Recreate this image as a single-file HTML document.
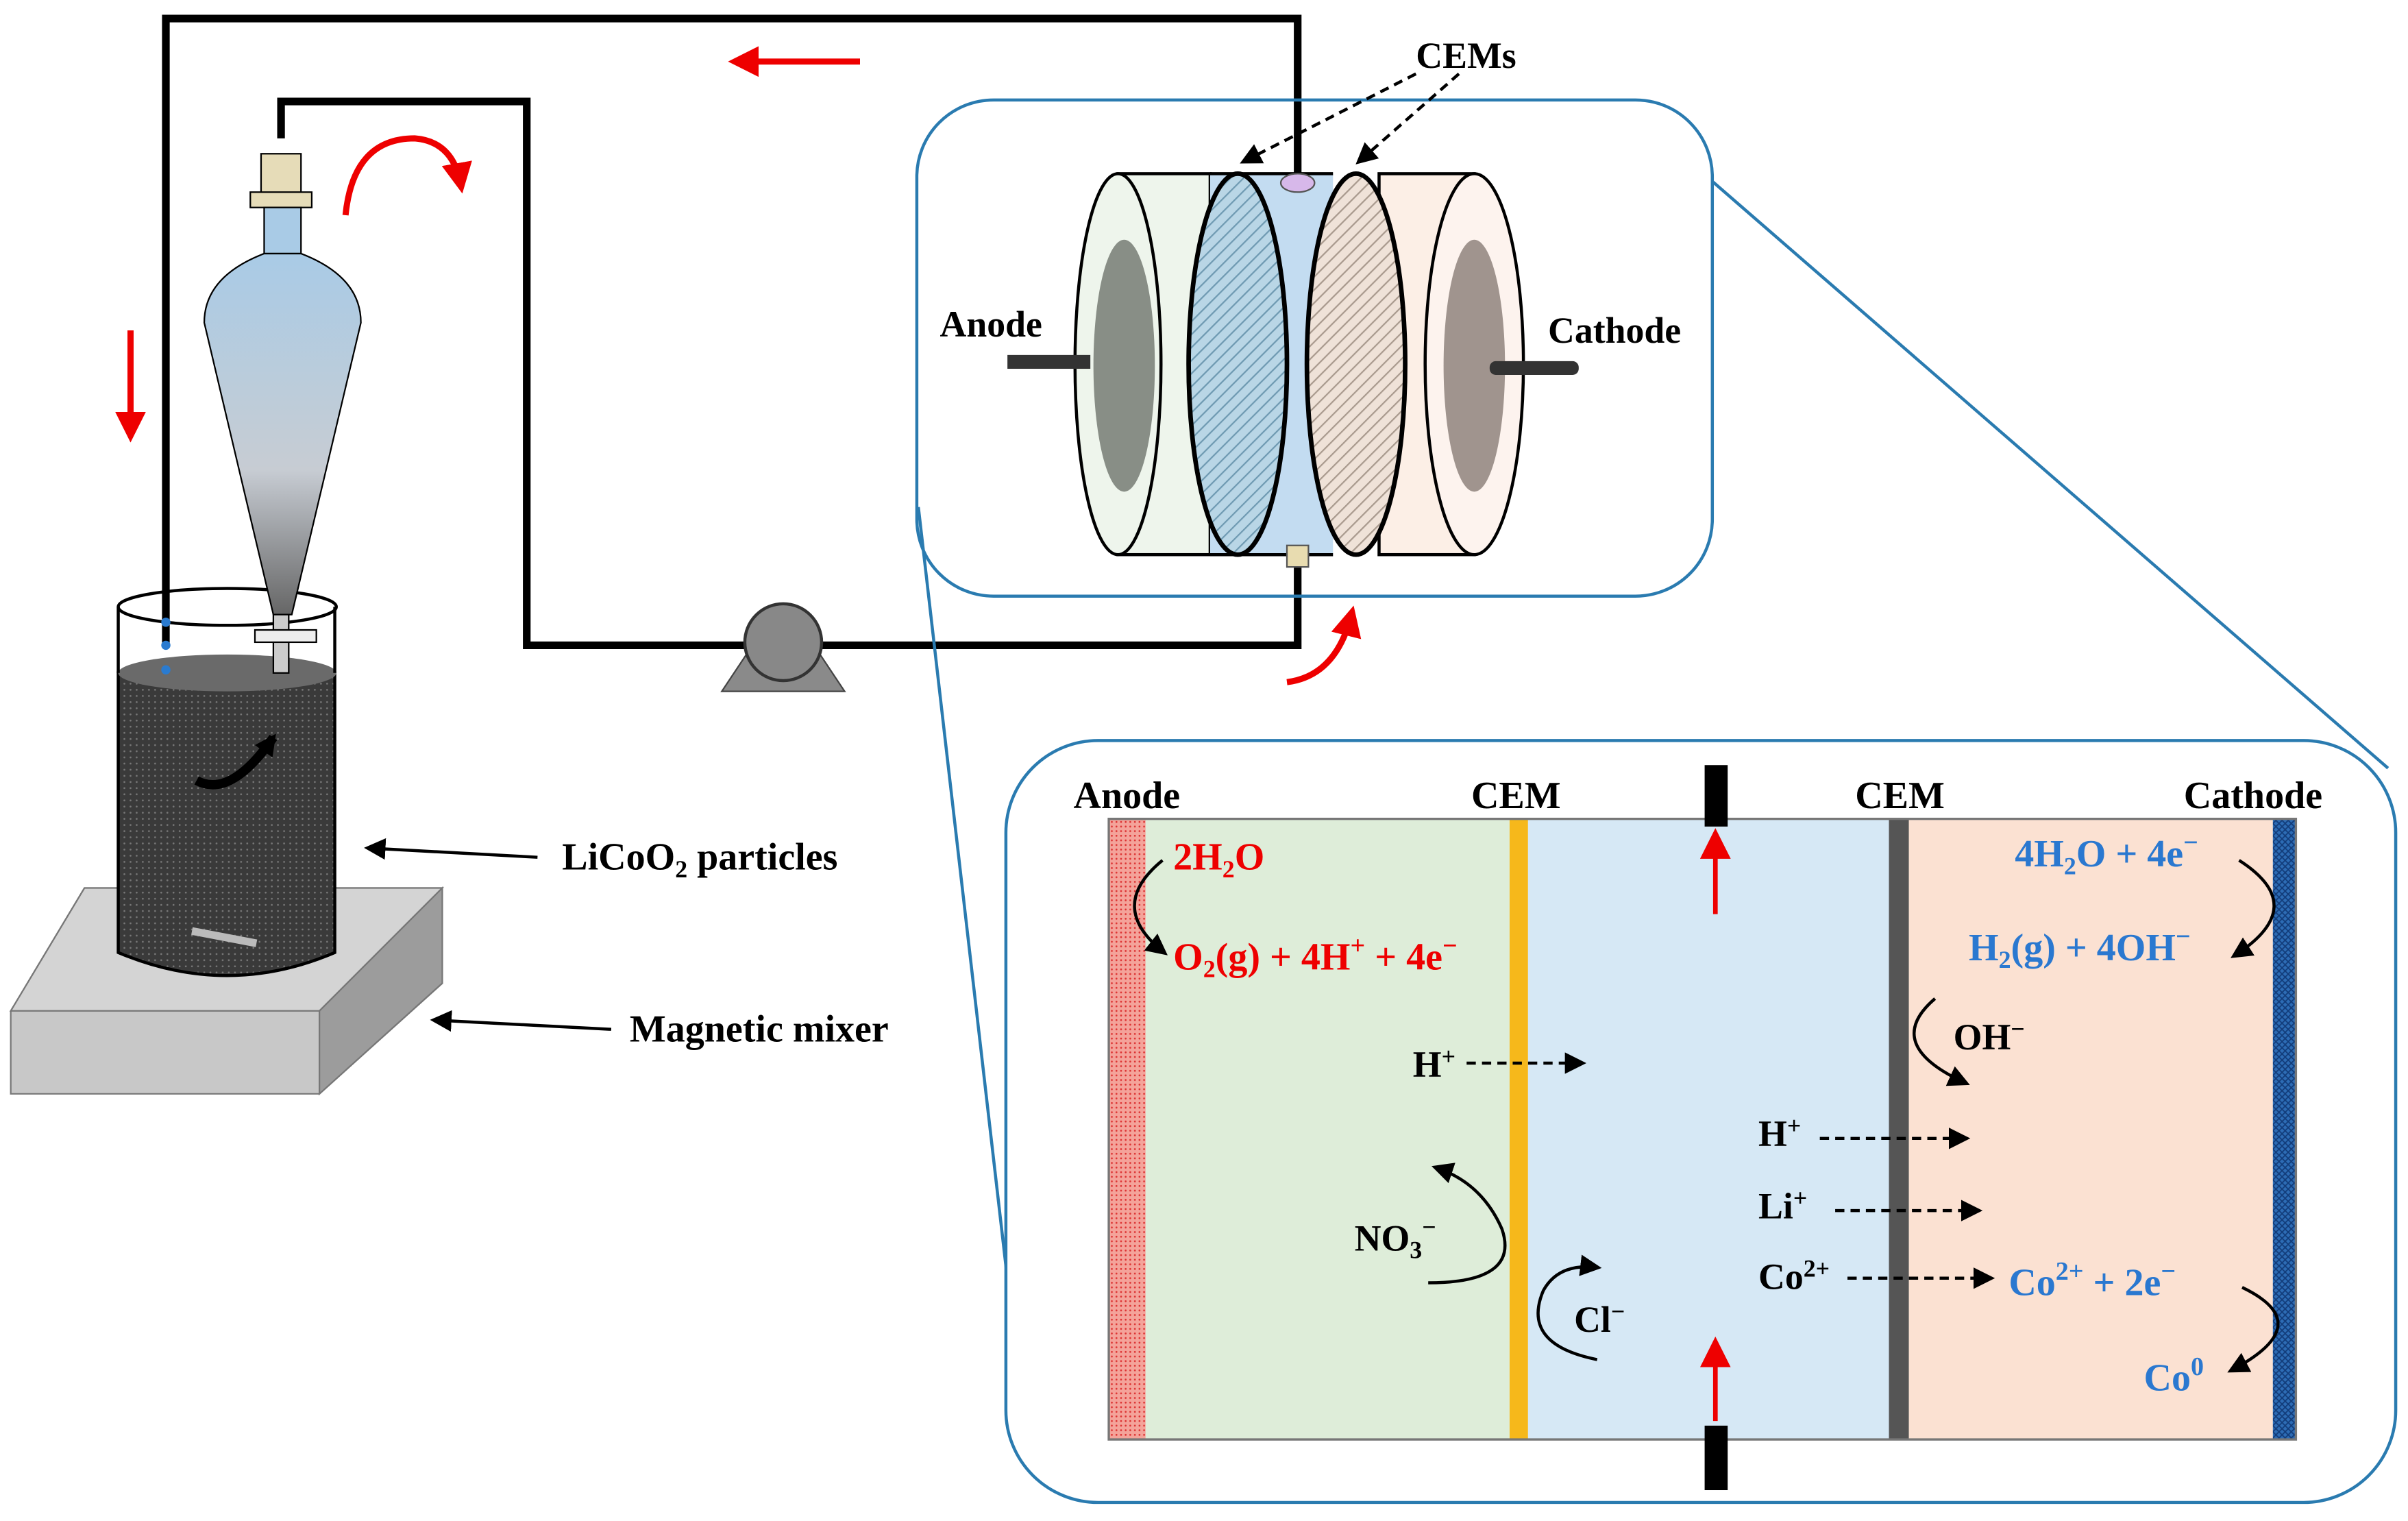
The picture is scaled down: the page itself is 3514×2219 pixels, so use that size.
<!DOCTYPE html>
<html><head><meta charset="utf-8"><style>
html,body{margin:0;padding:0;background:#fff;width:3514px;height:2219px;overflow:hidden}
svg{display:block}
text{font-family:"Liberation Serif",serif;font-weight:bold}
</style></head><body>
<svg width="3514" height="2219" viewBox="0 0 1568 990" xmlns="http://www.w3.org/2000/svg">
<defs>
<marker id="ab2" markerWidth="14" markerHeight="14" refX="11" refY="7" orient="auto" markerUnits="userSpaceOnUse"><path d="M0,0 L14,7 L0,14 z" fill="#000"/></marker>
<marker id="ar" markerWidth="20" markerHeight="20" refX="14" refY="10" orient="auto" markerUnits="userSpaceOnUse"><path d="M0,0 L20,10 L0,20 z" fill="#e00"/></marker>
<pattern id="h1" width="6" height="6" patternUnits="userSpaceOnUse" patternTransform="rotate(45)"><rect width="6" height="6" fill="#b9d6e6"/><line x1="0" y1="0" x2="0" y2="6" stroke="#6f9ab2" stroke-width="2"/></pattern>
<pattern id="h2" width="6" height="6" patternUnits="userSpaceOnUse" patternTransform="rotate(45)"><rect width="6" height="6" fill="#efe2d8"/><line x1="0" y1="0" x2="0" y2="6" stroke="#a99a8e" stroke-width="2"/></pattern>
<pattern id="dots" width="4" height="4" patternUnits="userSpaceOnUse"><rect width="4" height="4" fill="#3a3a3a"/><circle cx="1" cy="1" r="0.6" fill="#777"/></pattern>
<pattern id="rd" width="3" height="3" patternUnits="userSpaceOnUse"><rect width="3" height="3" fill="#f4a39a"/><circle cx="1" cy="1" r="0.6" fill="#d33"/></pattern>
<pattern id="bx" width="4" height="4" patternUnits="userSpaceOnUse"><rect width="4" height="4" fill="#2d6cb5"/><path d="M0,0 L4,4 M4,0 L0,4" stroke="#123c7a" stroke-width="0.8"/></pattern>
<linearGradient id="fun" x1="0" y1="0" x2="0" y2="1"><stop offset="0" stop-color="#a9cbe6"/><stop offset="0.6" stop-color="#c7ccd3"/><stop offset="1" stop-color="#666"/></linearGradient>
</defs>

<polyline points="108,420 108,12 845,12 845,115" fill="none" stroke="#000" stroke-width="5"/>
<polyline points="183,90 183,66 343,66 343,420 845,420 845,368" fill="none" stroke="#000" stroke-width="5"/>
<line x1="560" y1="40" x2="480" y2="40" stroke="#e00" stroke-width="4" marker-end="url(#ar)"/>
<line x1="85" y1="215" x2="85" y2="282" stroke="#e00" stroke-width="4" marker-end="url(#ar)"/>
<path d="M225,140 Q230,90 270,90 Q295,92 300,120" fill="none" stroke="#e00" stroke-width="4" marker-end="url(#ar)"/>
<path d="M838,444 Q870,440 880,400" fill="none" stroke="#e00" stroke-width="4" marker-end="url(#ar)"/>

<polygon points="470,450 550,450 530,420 490,420" fill="#8a8a8a" stroke="#444"/>
<circle cx="510" cy="418" r="25" fill="#888" stroke="#333" stroke-width="2"/>

<polygon points="7,658 55,578 288,578 288,640 208,712 7,712" fill="#c8c8c8" stroke="#777"/>
<polygon points="7,658 55,578 288,578 208,658" fill="#d4d4d4" stroke="#777"/>
<polygon points="208,658 288,578 288,640 208,712" fill="#9c9c9c" stroke="#777"/>
<path d="M77,438 L77,620 Q148,650 218,620 L218,438 Z" fill="url(#dots)" stroke="#000" stroke-width="2"/>
<ellipse cx="148" cy="438" rx="71" ry="12" fill="#6a6a6a"/>
<path d="M77,395 L77,438 M218,395 L218,438" stroke="#000" stroke-width="2"/>
<ellipse cx="148" cy="395" rx="71" ry="12" fill="none" stroke="#000" stroke-width="2"/>
<line x1="125" y1="606" x2="167" y2="614" stroke="#bbb" stroke-width="5"/>
<path d="M128,508 Q150,520 178,480" fill="none" stroke="#000" stroke-width="6" marker-end="url(#ab2)"/>
<circle cx="108" cy="405" r="3" fill="#2a7bd0"/><circle cx="108" cy="420" r="3" fill="#2a7bd0"/><circle cx="108" cy="436" r="3" fill="#2a7bd0"/>
<rect x="170" y="100" width="26" height="28" fill="#e6dcb8" stroke="#000"/>
<rect x="163" y="125" width="40" height="10" fill="#e6dcb8" stroke="#000"/>
<rect x="172" y="135" width="24" height="30" fill="#a9cbe6" stroke="#000"/>
<path d="M172,165 Q133,180 133,210 L178,400 L190,400 L235,210 Q235,180 196,165 Z" fill="url(#fun)" stroke="#000"/>
<rect x="178" y="400" width="10" height="38" fill="#ccc" stroke="#000"/>
<rect x="166" y="410" width="40" height="8" fill="#eee" stroke="#000"/>

<text x="366" y="566" font-size="25">LiCoO<tspan font-size="16" dy="5">2</tspan><tspan dy="-5"> particles</tspan></text>
<line x1="350" y1="558" x2="240" y2="552" stroke="#000" stroke-width="2" marker-end="url(#ab2)"/>
<text x="410" y="678" font-size="25">Magnetic mixer</text>
<line x1="398" y1="670" x2="283" y2="664" stroke="#000" stroke-width="2" marker-end="url(#ab2)"/>

<rect x="597" y="65" width="518" height="323" rx="50" fill="none" stroke="#2a7bb0" stroke-width="2"/>
<line x1="1115" y1="118" x2="1555" y2="500" stroke="#2a7bb0" stroke-width="2"/>
<line x1="598" y1="330" x2="658" y2="850" stroke="#2a7bb0" stroke-width="2"/>
<rect x="728" y="113" width="60" height="248" fill="#eef5ec" stroke="#000" stroke-width="2"/>
<ellipse cx="728" cy="237" rx="28" ry="124" fill="#eef5ec" stroke="#000" stroke-width="2"/>
<ellipse cx="732" cy="238" rx="20" ry="82" fill="#888e86"/>
<rect x="788" y="113" width="80" height="248" fill="#c3dcf1"/>
<line x1="788" y1="113" x2="868" y2="113" stroke="#000" stroke-width="2"/>
<line x1="788" y1="361" x2="868" y2="361" stroke="#000" stroke-width="2"/>
<ellipse cx="806" cy="237" rx="32" ry="124" fill="url(#h1)" stroke="#000" stroke-width="3"/>
<rect x="898" y="113" width="62" height="248" fill="#fcefe6" stroke="#000" stroke-width="2"/>
<ellipse cx="883" cy="237" rx="32" ry="124" fill="url(#h2)" stroke="#000" stroke-width="3"/>
<ellipse cx="960" cy="237" rx="32" ry="124" fill="#fdf3ee" stroke="#000" stroke-width="2"/>
<ellipse cx="960" cy="238" rx="20" ry="82" fill="#a0948e"/>
<ellipse cx="845" cy="119" rx="11" ry="6" fill="#d7b8ea" stroke="#555"/>
<rect x="838" y="355" width="14" height="14" fill="#e8dcb0" stroke="#555"/>
<rect x="656" y="231" width="54" height="9" fill="#333"/>
<rect x="970" y="235" width="58" height="9" rx="4" fill="#333"/>
<text x="612" y="219" font-size="24">Anode</text>
<text x="1008" y="223" font-size="24">Cathode</text>
<text x="922" y="44" font-size="24">CEMs</text>
<line x1="922" y1="48" x2="810" y2="105" stroke="#000" stroke-width="2" stroke-dasharray="6,4" marker-end="url(#ab2)"/>
<line x1="950" y1="48" x2="885" y2="105" stroke="#000" stroke-width="2" stroke-dasharray="6,4" marker-end="url(#ab2)"/>

<rect x="655" y="482" width="905" height="496" rx="60" fill="#fff" stroke="#2a7bb0" stroke-width="2"/>
<rect x="722" y="533" width="24" height="404" fill="url(#rd)"/>
<rect x="746" y="533" width="237" height="404" fill="#deedd9"/>
<rect x="983" y="533" width="12" height="404" fill="#f6b81b"/>
<rect x="995" y="533" width="235" height="404" fill="#d6e8f5"/>
<rect x="1230" y="533" width="13" height="404" fill="#555"/>
<rect x="1243" y="533" width="237" height="404" fill="#fbe1d2"/>
<rect x="1480" y="533" width="15" height="404" fill="url(#bx)"/>
<rect x="722" y="533" width="773" height="404" fill="none" stroke="#777" stroke-width="1.5"/>
<rect x="1110" y="498" width="15" height="40" fill="#000"/>
<rect x="1110" y="928" width="15" height="42" fill="#000"/>
<line x1="1117" y1="595" x2="1117" y2="545" stroke="#e00" stroke-width="3" marker-end="url(#ar)"/>
<line x1="1117" y1="925" x2="1117" y2="876" stroke="#e00" stroke-width="3" marker-end="url(#ar)"/>

<text x="699" y="526" font-size="25">Anode</text>
<text x="958" y="526" font-size="25">CEM</text>
<text x="1208" y="526" font-size="25">CEM</text>
<text x="1422" y="526" font-size="25">Cathode</text>

<text x="764" y="566" font-size="25" fill="#e00">2H<tspan font-size="16" dy="5">2</tspan><tspan dy="-5">O</tspan></text>
<text x="764" y="631" font-size="25" fill="#e00">O<tspan font-size="16" dy="5">2</tspan><tspan dy="-5">(g) + 4H</tspan><tspan font-size="17" dy="-10">+</tspan><tspan dy="10"> + 4e</tspan><tspan font-size="17" dy="-10">−</tspan></text>
<path d="M757,560 Q720,590 758,620" fill="none" stroke="#000" stroke-width="2" marker-end="url(#ab2)"/>

<text x="1312" y="564" font-size="25" fill="#2a78d0">4H<tspan font-size="16" dy="5">2</tspan><tspan dy="-5">O + 4e</tspan><tspan font-size="17" dy="-10">−</tspan></text>
<text x="1282" y="625" font-size="25" fill="#2a78d0">H<tspan font-size="16" dy="5">2</tspan><tspan dy="-5">(g) + 4OH</tspan><tspan font-size="17" dy="-10">−</tspan></text>
<path d="M1458,560 Q1505,590 1455,622" fill="none" stroke="#000" stroke-width="2" marker-end="url(#ab2)"/>

<path d="M1260,650 Q1225,680 1280,705" fill="none" stroke="#000" stroke-width="2" marker-end="url(#ab2)"/>
<text x="1272" y="683" font-size="24">OH<tspan font-size="16" dy="-8">−</tspan></text>

<text x="920" y="701" font-size="24">H<tspan font-size="16" dy="-8">+</tspan></text>
<line x1="955" y1="692" x2="1030" y2="692" stroke="#000" stroke-width="2" stroke-dasharray="6,4" marker-end="url(#ab2)"/>
<text x="1145" y="746" font-size="24">H<tspan font-size="16" dy="-8">+</tspan></text>
<line x1="1185" y1="741" x2="1280" y2="741" stroke="#000" stroke-width="2" stroke-dasharray="6,4" marker-end="url(#ab2)"/>
<text x="1145" y="793" font-size="24">Li<tspan font-size="16" dy="-8">+</tspan></text>
<line x1="1195" y1="788" x2="1288" y2="788" stroke="#000" stroke-width="2" stroke-dasharray="6,4" marker-end="url(#ab2)"/>
<text x="1145" y="839" font-size="24">Co<tspan font-size="16" dy="-8">2+</tspan></text>
<line x1="1203" y1="832" x2="1296" y2="832" stroke="#000" stroke-width="2" stroke-dasharray="6,4" marker-end="url(#ab2)"/>
<text x="1308" y="843" font-size="25" fill="#2a78d0">Co<tspan font-size="17" dy="-10">2+</tspan><tspan dy="10"> + 2e</tspan><tspan font-size="17" dy="-10">−</tspan></text>
<text x="1396" y="905" font-size="25" fill="#2a78d0">Co<tspan font-size="17" dy="-10">0</tspan></text>
<path d="M1460,838 Q1510,862 1453,892" fill="none" stroke="#000" stroke-width="2" marker-end="url(#ab2)"/>

<path d="M930,835 Q990,835 978,800 Q965,770 935,760" fill="none" stroke="#000" stroke-width="2" marker-end="url(#ab2)"/>
<text x="882" y="814" font-size="24">NO<tspan font-size="16" dy="5">3</tspan><tspan font-size="16" dy="-15">−</tspan></text>
<path d="M1040,885 Q990,875 1005,840 Q1015,822 1040,825" fill="none" stroke="#000" stroke-width="2" marker-end="url(#ab2)"/>
<text x="1025" y="867" font-size="24">Cl<tspan font-size="16" dy="-8">−</tspan></text>
</svg>
</body></html>
